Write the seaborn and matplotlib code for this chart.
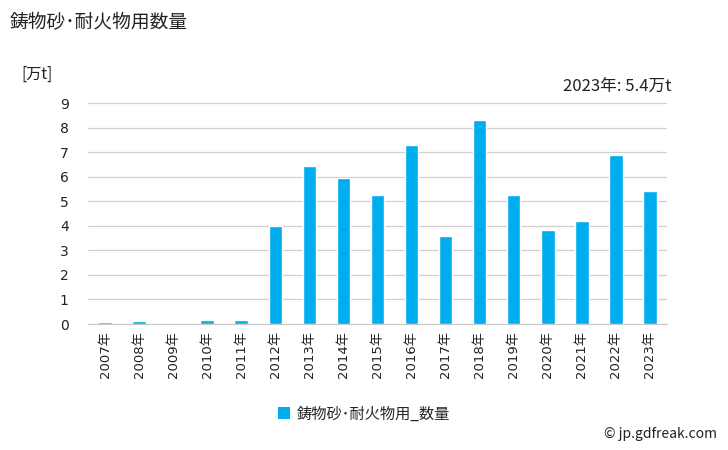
import numpy as np
import pandas as pd
import matplotlib
matplotlib.use("Agg")
import matplotlib.pyplot as plt
import seaborn as sns
from matplotlib.patches import Patch

# Data
years = ["2007年", "2008年", "2009年", "2010年", "2011年", "2012年", "2013年", "2014年",
         "2015年", "2016年", "2017年", "2018年", "2019年", "2020年", "2021年", "2022年", "2023年"]
values = [0.07, 0.11, 0.0, 0.15, 0.15, 4.0, 6.44, 5.95, 5.26, 7.3, 3.59, 8.32, 5.26,
          3.84, 4.2, 6.89, 5.42]
series_name = "鋳物砂･耐火物用_数量"
bar_color = "#00AEEF"

df = pd.DataFrame({"year": years, "value": values})

sns.set_style("white")
plt.rcParams["font.family"] = ["Noto Sans CJK JP", "DejaVu Sans"]
num_font = ["DejaVu Sans", "Noto Sans CJK JP"]

fig = plt.figure(figsize=(7.28, 4.5), dpi=100)
ax = fig.add_axes([0.121, 0.28, 0.795, 0.491])

sns.barplot(data=df, x="year", y="value", color=bar_color, width=0.4,
            saturation=1, ax=ax, zorder=3)

ax.set_ylim(0, 9)
ax.set_xlim(-0.5, len(years) - 0.5)
ax.set_yticks(range(0, 10))
ax.yaxis.grid(True, color="#d0d0d0", linewidth=0.9, zorder=0)
ax.set_xlabel("")
ax.set_ylabel("")

for s in ["left", "right", "top"]:
    ax.spines[s].set_visible(False)
ax.spines["bottom"].set_color("#c8c8c8")
ax.spines["bottom"].set_zorder(2)

# ticks at category boundaries
ax.set_xticks(np.arange(len(years)))
ax.set_xticklabels(years, rotation=90, fontsize=9.5, color="#222222", family=num_font)
ax.tick_params(axis="x", length=0, pad=5)
ax.set_xticks(np.arange(-0.5, len(years)), minor=True)
ax.tick_params(axis="x", which="minor", length=6, color="#c8c8c8", width=1)
ax.set_yticklabels([str(v) for v in range(0, 10)], family=num_font)
ax.tick_params(axis="y", length=0, labelsize=10, colors="#222222", pad=14)

fig.text(0.014, 0.95, "鋳物砂･耐火物用数量", fontsize=13.5, color="#222222", va="center")
fig.text(0.03, 0.835, "[万t]", fontsize=11, color="#222222", va="center")
fig.text(0.922, 0.808, "2023年: 5.4万t", fontsize=12, color="#222222", va="center", ha="right")

handle = Patch(facecolor=bar_color, edgecolor="none")
fig.legend([handle], [series_name], loc="center", bbox_to_anchor=(0.5, 0.08),
           frameon=False, fontsize=11, handlelength=0.8, handleheight=0.8, handletextpad=0.4)

fig.text(0.985, 0.035, "© jp.gdfreak.com", fontsize=10, color="#222222", ha="right", va="center")

fig.savefig("out.png", dpi=100)
